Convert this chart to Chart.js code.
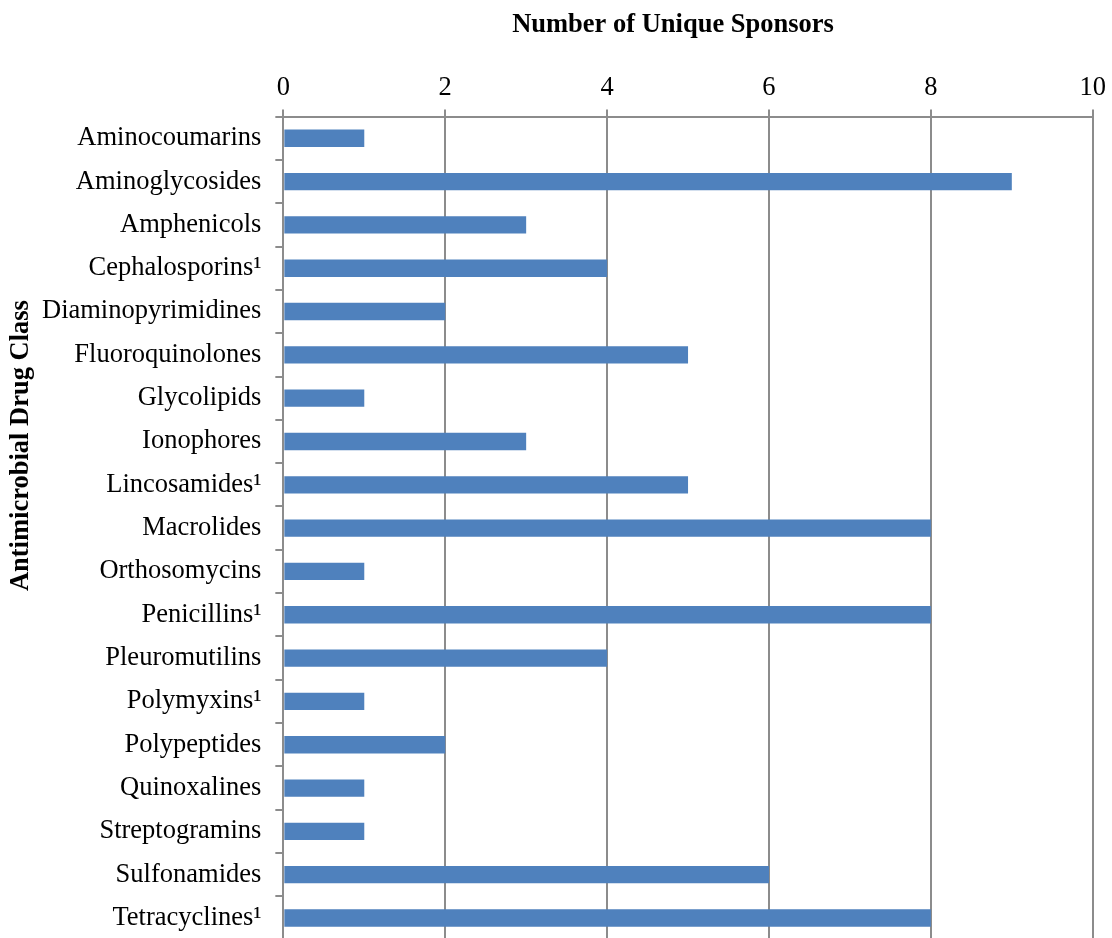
<!DOCTYPE html>
<html>
<head>
<meta charset="utf-8">
<script src="https://cdn.jsdelivr.net/npm/chart.js@4.4.0/dist/chart.umd.min.js"></script>
<style>
  body { margin: 0; background: #fff; overflow: hidden; }
  /* a little taller than the window: the plot runs off the bottom edge like the original */
  #wrap { width: 1112px; height: 955px; position: relative; }
</style>
</head>
<body>
<div id="wrap"><canvas id="myChart"></canvas></div>
<script>
const drugClasses = [
  'Aminocoumarins', 'Aminoglycosides', 'Amphenicols', 'Cephalosporins¹',
  'Diaminopyrimidines', 'Fluoroquinolones', 'Glycolipids', 'Ionophores',
  'Lincosamides¹', 'Macrolides', 'Orthosomycins', 'Penicillins¹',
  'Pleuromutilins', 'Polymyxins¹', 'Polypeptides', 'Quinoxalines',
  'Streptogramins', 'Sulfonamides', 'Tetracyclines¹'
];
const sponsors = [1, 9, 3, 4, 2, 5, 1, 3, 5, 8, 1, 8, 4, 1, 2, 1, 1, 6, 8];
const xTicks = [0, 2, 4, 6, 8, 10];
const xTitle = 'Number of Unique Sponsors';
const yTitle = 'Antimicrobial Drug Class';

const serif = "'Liberation Serif', 'Times New Roman', serif";
const gridGrey = '#8c8c8c';

// both axis titles sit a bit off-centre in the original, so draw them by hand
const titlesPlugin = {
    id: 'titles',
    afterDraw(chart) {
        const c = chart.ctx;
        c.save();
        c.font = 'bold 26.5px ' + serif;
        c.fillStyle = '#000';
        c.textAlign = 'center';
        c.textBaseline = 'middle';
        c.fillText(xTitle, 673, 25);
        c.translate(21, chart.chartArea.top + 329);
        c.rotate(-Math.PI / 2);
        c.fillText(yTitle, 0, 0);
        c.restore();
    }
};

let ctx = document.getElementById('myChart').getContext('2d');

let sponsorChart = new Chart(ctx, {
    type: 'bar',
    data: {
        labels: drugClasses,
        datasets: [{
            label: xTitle,
            data: sponsors,
            backgroundColor: '#4f81bd',
            barPercentage: 0.4,
            categoryPercentage: 1
        }]
    },
    options: {
        indexAxis: 'y',
        responsive: true,
        maintainAspectRatio: false,
        animation: false,
        layout: { padding: { top: 11, right: 13, bottom: 0, left: 28 } },
        plugins: {
            legend: { display: false },
            tooltip: { enabled: false }
        },
        scales: {
            x: {
                position: 'top',
                min: 0,
                max: 10,
                afterBuildTicks: axis => { axis.ticks = xTicks.map(v => ({ value: v })); },
                grid: { color: gridGrey, lineWidth: 2, tickLength: 7 },
                border: { color: gridGrey, width: 2 },
                ticks: { color: '#000', font: { family: serif, size: 26.5 }, padding: 6 },
                title: {
                    // keeps the room; the text itself comes from titlesPlugin
                    display: true,
                    text: xTitle,
                    color: 'rgba(0,0,0,0)',
                    font: { family: serif, size: 26.5, weight: 'bold' },
                    padding: { top: 0, bottom: 23 }
                }
            },
            y: {
                grid: { drawOnChartArea: false, color: gridGrey, lineWidth: 2, tickLength: 8 },
                border: { color: gridGrey, width: 2 },
                ticks: { color: '#000', font: { family: serif, size: 26.5, lineHeight: 0.1 }, padding: 14, autoSkip: false },
                title: { display: false }
            }
        }
    },
    plugins: [titlesPlugin]
});
</script>
</body>
</html>
